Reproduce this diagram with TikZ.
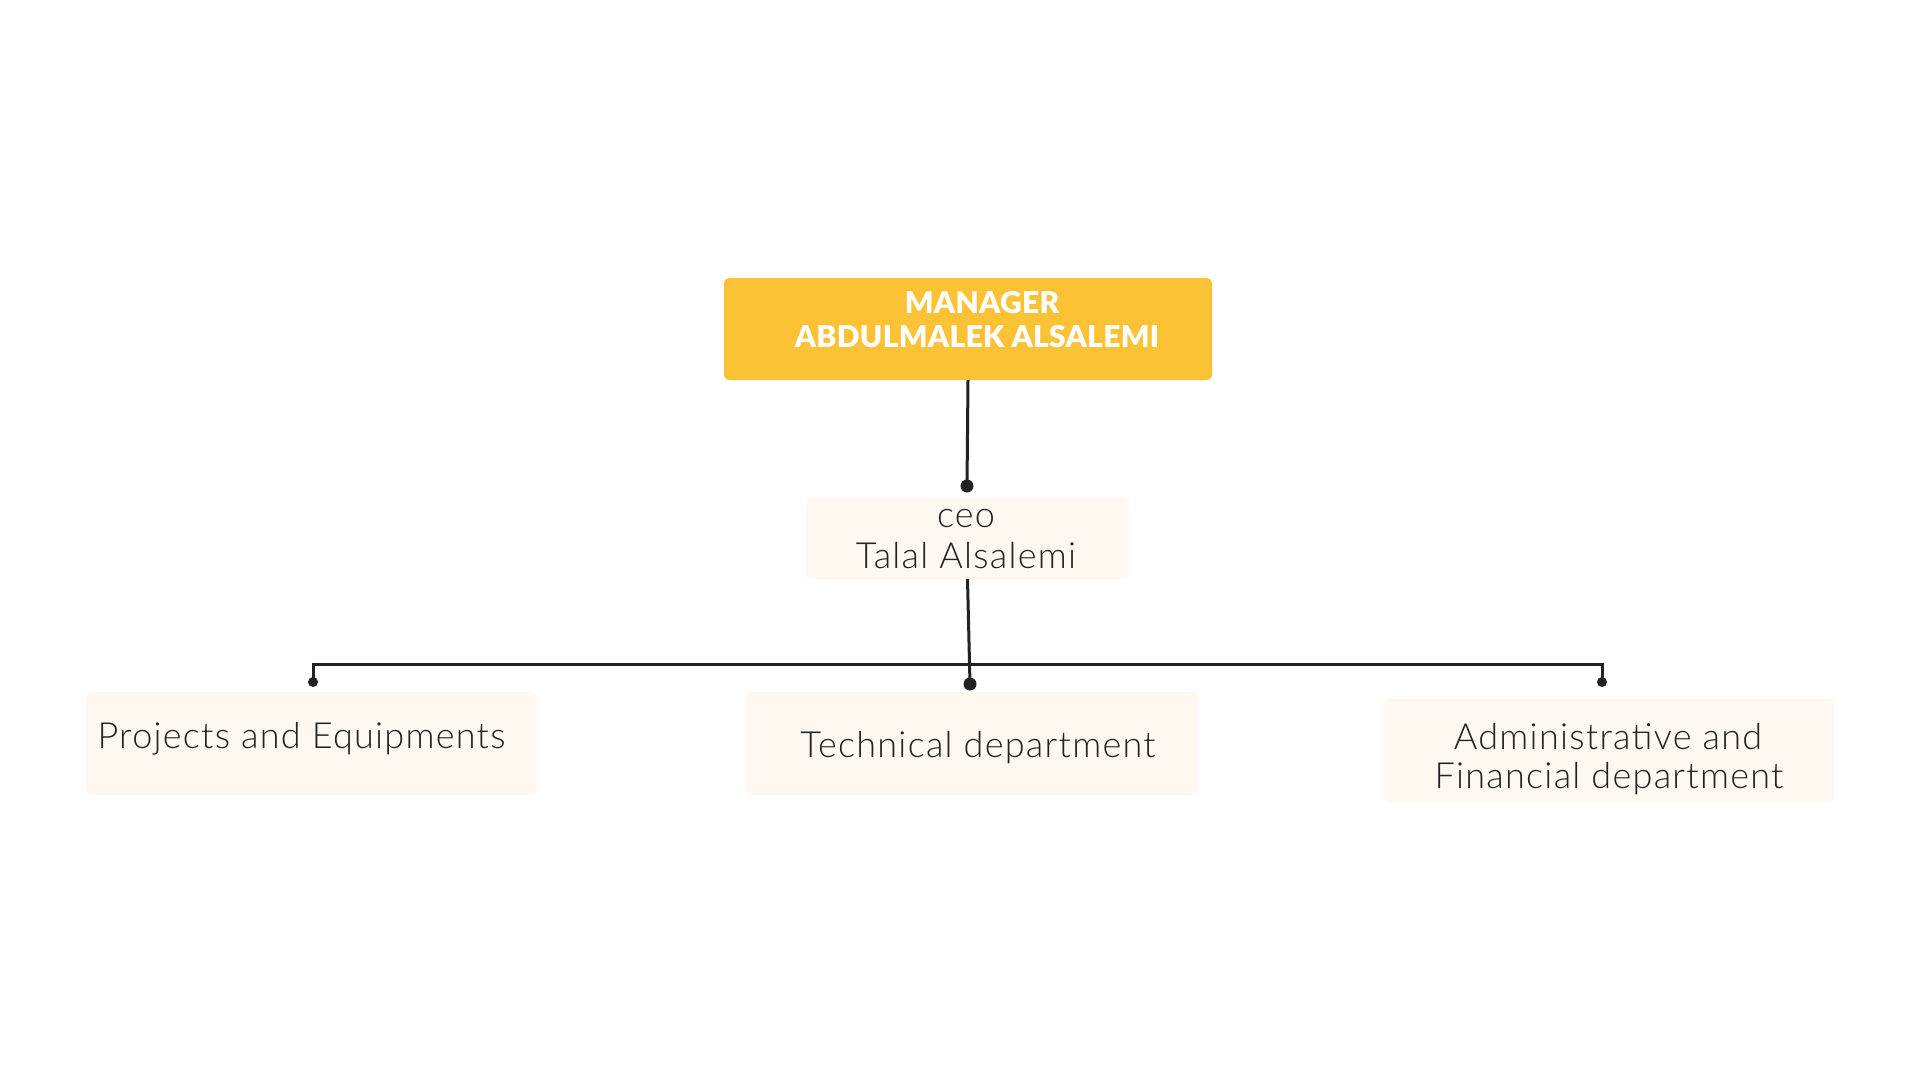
\documentclass[tikz,border=0pt]{standalone}
\usepackage{fontspec}
\setmainfont{Lato}
\newfontfamily\thinfont{Lato Light}[LetterSpace=3.5]
\newfontfamily\heavyfont{Lato Black}[LetterSpace=1]
\definecolor{gold}{HTML}{FBC236}
\definecolor{cream}{HTML}{FEF8F1}
\definecolor{ink}{HTML}{222222}
\begin{document}
\begin{tikzpicture}[x=1pt,y=-1pt,
  box/.style={rectangle,rounded corners=5pt,inner sep=0pt,draw=none},
  bodytext/.style={inner sep=0pt,anchor=base,text=ink,font=\thinfont\fontsize{36}{40}\selectfont},
  headtext/.style={inner sep=0pt,anchor=base,text=white,font=\heavyfont\fontsize{30}{34}\selectfont},
  wire/.style={draw=ink,line width=3pt},
  bigdot/.style={circle,fill=ink,inner sep=0pt,minimum size=13pt},
  smalldot/.style={circle,fill=ink,inner sep=0pt,minimum size=10pt}]
\useasboundingbox[fill=white] (0,0) rectangle (1920,1080);

% boxes
\node[box,fill=gold,minimum width=488pt,minimum height=102pt] (mgr) at (968,329) {};
\node[box,fill=cream,minimum width=323pt,minimum height=81pt] (ceo) at (967.5,538.5) {};
\node[box,fill=cream,minimum width=451pt,minimum height=103pt] (proj) at (311.5,743.5) {};
\node[box,fill=cream,minimum width=452pt,minimum height=103pt] (tech) at (972,743.5) {};
\node[box,fill=cream,minimum width=451pt,minimum height=103pt] (admin) at (1608.5,750.5) {};

% labels
\node[headtext] (mgrA) at (982,313) {MANAGER};
\node[headtext] (mgrB) at (977,347) {ABDULMALEK ALSALEMI};
\node[bodytext] (ceoA) at (966,527) {ceo};
\node[bodytext] (ceoB) at (966,568) {Talal Alsalemi};
\node[bodytext] (projT) at (301.5,748) {Projects and Equipments};
\node[bodytext] (techT) at (978,757) {Technical department};
\node[bodytext] (admA) at (1608,749) {Administrative and};
\node[bodytext] (admB) at (1609,788) {Financial department};

% junction dots
\node[bigdot] (dCeo) at (967,486) {};
\node[bigdot] (dTech) at (970,684) {};
\node[smalldot] (dProj) at (313,682) {};
\node[smalldot] (dAdm) at (1602,682) {};
\coordinate (bus) at (968,664);

% connectors
\draw[wire] (mgr.south) -- (dCeo.center);
\draw[wire] (ceo.south) -- (dTech.center);
\draw[wire] (dProj.center) |- (bus) -| (dAdm.center);
\end{tikzpicture}
\end{document}
